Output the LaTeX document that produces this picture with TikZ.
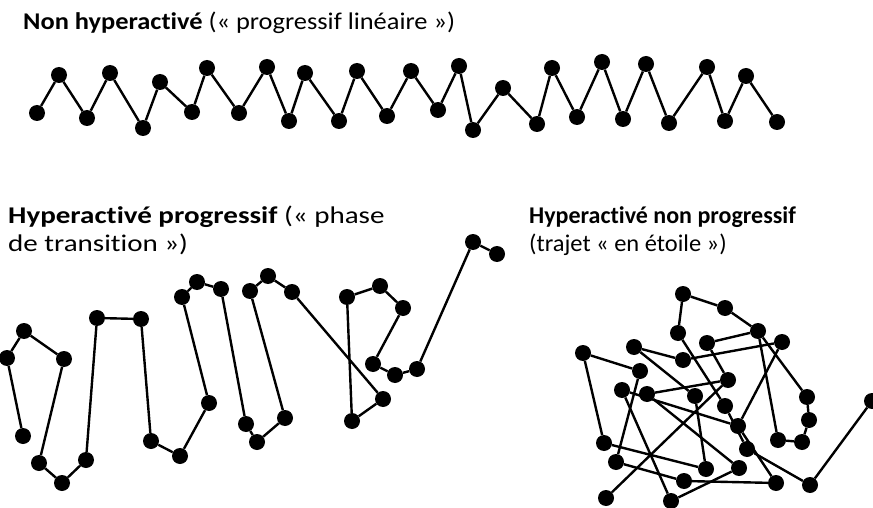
\documentclass[tikz,border=0pt]{standalone}
\usepackage{fontspec}
\setmainfont{Carlito}[RawFeature={-liga;-clig;-calt;-dlig}]
\begin{document}
\begin{tikzpicture}[x=1pt,y=-1pt]
                % Define styles for the trajectories
                \tikzstyle{dot} = [circle, fill=black, inner sep=0pt, minimum size=16pt]
                \tikzstyle{path} = [draw, line width=2.4pt, -]
                \tikzstyle{title} = [anchor=base west, inner sep=0pt, font=\fontsize{24}{28}\selectfont]

                \useasboundingbox (0,0) rectangle (873,508);

                % Titles (widths as in the reference)
                \node[title] (ttop) at (23,30) {\scalebox{1.10}[1]{\textbf{Non hyperactivé} (« progressif linéaire »)}};
                \node[title] (tleft) at (8,223) {\scalebox{1.21}[1]{\textbf{Hyperactivé progressif} (« phase}};
                \node[title] (tleft2) at (8,251) {\scalebox{1.21}[1]{de transition »)}};
                \node[title] (tright) at (529,223) {\textbf{Hyperactivé non progressif}};
                \node[title] (tright2) at (529,251) {\scalebox{1.02}[1]{(trajet « en étoile »)}};

                % Linear trajectory (zigzag)
                \foreach \x/\y [count=\i] in {37/113, 59/75, 87/118, 110/73, 143/128, 160/82,
                    192/112, 207/68, 239/113, 267/67, 289/121, 305/73, 339/121, 357/71, 387/116,
                    411/71, 438/110, 459/66, 473/130, 503/88, 537/124, 552/68, 577/117, 602/62,
                    623/119, 646/64, 669/123, 707/67, 725/121, 746/76, 777/122}
                    \node[dot] (lin\i) at (\x,\y) {};
                \foreach \i [evaluate=\i as \j using int(\i+1)] in {1,...,30}
                    \draw[path] (lin\i) -- (lin\j);

                % Progressive trajectory (transition phase)
                \foreach \x/\y [count=\i] in {23/436, 7/358, 24/331, 64/359, 39/463, 62/483,
                    86/460, 97/318, 141/319, 151/441, 180/456, 209/403, 182/297, 197/282,
                    221/289, 246/424, 257/442, 285/418, 250/291, 268/276, 292/292, 383/399,
                    352/421, 347/297, 380/286, 403/308, 373/364, 395/375, 417/369, 473/242, 497/254}
                    \node[dot] (prog\i) at (\x,\y) {};
                \foreach \i [evaluate=\i as \j using int(\i+1)] in {1,...,30}
                    \draw[path] (prog\i) -- (prog\j);

                % Star trajectory
                \foreach \x/\y [count=\i] in {683/294, 725/308, 678/333, 758/331, 707/343,
                    782/342, 634/347, 583/353, 683/360, 640/371, 728/380, 622/390, 647/394,
                    695/396, 725/406, 807/397, 872/401, 809/420, 738/426, 778/440, 802/442,
                    604/443, 747/449, 616/462, 706/469, 739/468, 684/481, 776/483, 810/485,
                    606/498, 671/501}
                    \node[dot] (st\i) at (\x,\y) {};
                \foreach \a/\b in {1/2, 1/3, 2/4, 4/5, 4/16, 4/20, 16/18, 18/21, 21/20, 6/9,
                    6/19, 7/9, 7/14, 3/15, 15/23, 5/11, 13/11, 30/11, 19/28, 8/10, 8/22, 10/24,
                    24/27, 27/28, 22/25, 14/25, 31/26, 12/31, 12/19, 13/26, 23/29, 29/17}
                    \draw[path] (st\a) -- (st\b);
            \end{tikzpicture}
\end{document}
